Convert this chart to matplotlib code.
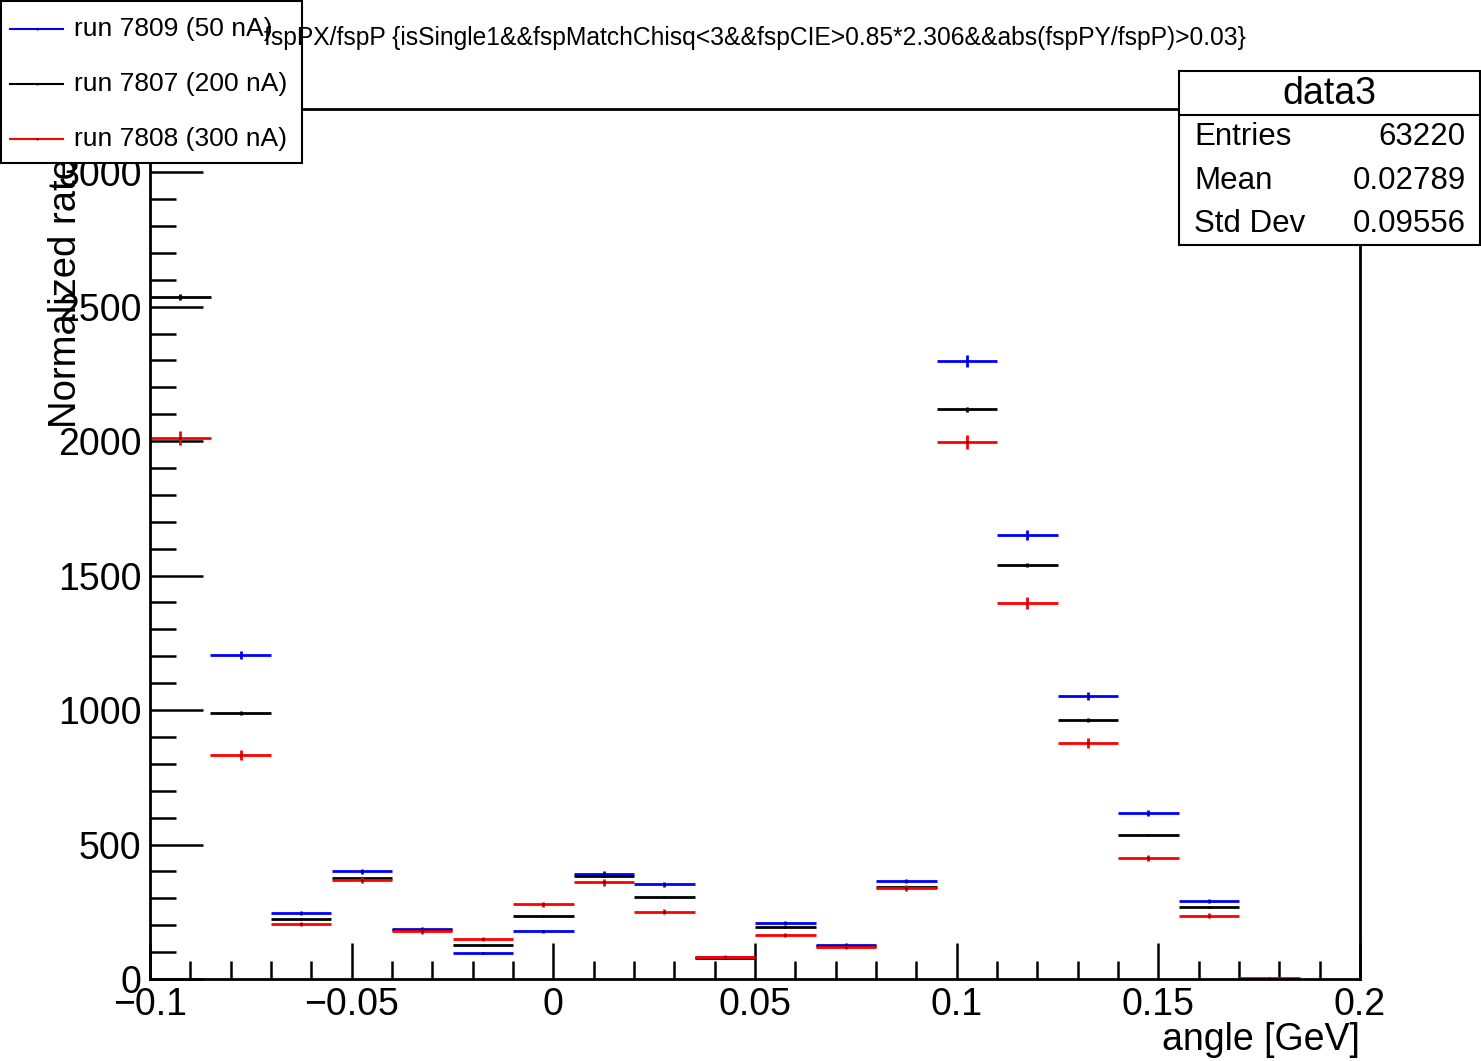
import numpy as np
import matplotlib
matplotlib.use("Agg")
import matplotlib.pyplot as plt
from matplotlib.patches import Rectangle
from matplotlib.lines import Line2D
from matplotlib.ticker import MultipleLocator

plt.rcParams['font.family'] = ['Liberation Sans', 'DejaVu Sans']

# ---- data ----
bin_edges = np.linspace(-0.1, 0.2, 21)
# run 7809 (50 nA) - first bin above the displayed range
blue_vals = [3300, 1204, 244, 400, 187, 97, 177, 391, 352, 80, 209, 128, 365,
             2297, 1651, 1052, 617, 289, 0, 0]
blue_err = [26, 15.6, 7, 9, 6.2, 4.4, 6, 8.9, 8.4, 4, 6.5, 5.1, 8.6,
            21.6, 18.3, 14.6, 11.2, 7.7, 0, 0]
# run 7807 (200 nA)
black_vals = [2536, 989, 223, 375, 184, 125, 233, 383, 305, 77, 194, 123, 343,
              2118, 1539, 963, 535, 268, 0, 0]
black_err = [11, 6.9, 3.3, 4.3, 3, 2.5, 3.4, 4.3, 3.8, 1.9, 3.1, 2.4, 4.1,
             10, 8.6, 6.8, 5.1, 3.6, 0, 0]
# run 7808 (300 nA)
red_vals = [2011, 833, 204, 367, 177, 148, 278, 359, 250, 83, 162, 120, 339,
            1997, 1399, 877, 450, 235, 3, 0]
red_err = [27, 17.3, 8.6, 11.5, 8, 7.3, 10, 11.4, 9.5, 5.5, 7.6, 6.6, 11,
           26.8, 22.4, 17.8, 12.7, 9.2, 1, 0]

series_labels = ["run 7809 (50 nA)", "run 7807 (200 nA)", "run 7808 (300 nA)"]
series_colors = ["#0000ff", "#000000", "#ff0000"]

title = "fspPX/fspP {isSingle1&&fspMatchChisq<3&&fspCIE>0.85*2.306&&abs(fspPY/fspP)>0.03}"
xlabel = "angle [GeV]"
ylabel = "Normalized rate"
stats_name = "data3"
stats_rows = [("Entries", "63220"), ("Mean", "0.02789"), ("Std Dev", "0.09556")]

W, H = 1481, 1061
fig = plt.figure(figsize=(W / 100, H / 100), dpi=100)
L, R, T, B = 150, 1360, 109, 979
ax = fig.add_axes([L / W, 1 - B / H, (R - L) / W, (B - T) / H])

centers = 0.5 * (bin_edges[:-1] + bin_edges[1:])
half = 0.5 * (bin_edges[1] - bin_edges[0])

for vals, err, col in [(blue_vals, blue_err, series_colors[0]),
                       (black_vals, black_err, series_colors[1]),
                       (red_vals, red_err, series_colors[2])]:
    v = np.array(vals, dtype=float)
    e = np.array(err, dtype=float)
    m = v > 0
    ax.errorbar(centers[m], v[m], xerr=half, yerr=e[m], fmt='none',
                ecolor=col, elinewidth=2, capsize=0, clip_on=True)
    ax.plot(centers[m], v[m], 's', color='black', markersize=1.3,
            markeredgewidth=0, clip_on=True)

ax.set_xlim(-0.1, 0.2)
ax.set_ylim(0, 3235)

for s in ['top', 'right', 'left', 'bottom']:
    ax.spines[s].set_linewidth(2)

ax.xaxis.set_major_locator(MultipleLocator(0.05))
ax.xaxis.set_minor_locator(MultipleLocator(0.01))
ax.yaxis.set_major_locator(MultipleLocator(500))
ax.yaxis.set_minor_locator(MultipleLocator(100))
ax.tick_params(axis='y', which='major', direction='in', length=38, width=1.8,
               labelsize=27, pad=6)
ax.tick_params(axis='y', which='minor', direction='in', length=19, width=1.8)
ax.tick_params(axis='x', which='major', direction='in', length=26, width=1.8,
               labelsize=27, pad=6)
ax.tick_params(axis='x', which='minor', direction='in', length=13, width=1.8)
ax.set_xticks([-0.1, -0.05, 0, 0.05, 0.1, 0.15, 0.2])
ax.set_xticklabels(["\u22120.1", "\u22120.05", "0", "0.05", "0.1", "0.15", "0.2"])

fig.text(R / W, 1 - 1040 / H, xlabel, ha='right', va='center', fontsize=27)
fig.text(66 / W, 1 - 158 / H, ylabel, ha='center', va='top', rotation=90,
         fontsize=27.5)
fig.text(755 / W, 1 - 38 / H, title, ha='center', va='center', fontsize=17.7,
         zorder=9)

# ---- legend box ----
lx0, ly0, lx1, ly1 = 1, 1, 302, 163
fig.patches.append(Rectangle((lx0 / W, 1 - ly1 / H), (lx1 - lx0) / W, (ly1 - ly0) / H,
                             transform=fig.transFigure, facecolor='white',
                             edgecolor='black', linewidth=1.5, zorder=5))
for i, (lab, col) in enumerate(zip(series_labels, series_colors)):
    yy = 1 - [29, 84, 139][i] / H
    fig.lines.append(Line2D([10 / W, 63 / W], [yy, yy], transform=fig.transFigure,
                            color=col, linewidth=1.5, zorder=6))
    fig.lines.append(Line2D([36.5 / W], [yy], transform=fig.transFigure, marker='s',
                            color='black', markersize=1.3, markeredgewidth=0, zorder=7))
    fig.text(74 / W, yy, lab, ha='left', va='center', fontsize=19, zorder=7)

# ---- stats box ----
sx0, sy0, sx1, sy1 = 1179, 71, 1480, 245
fig.patches.append(Rectangle((sx0 / W, 1 - sy1 / H), (sx1 - sx0) / W, (sy1 - sy0) / H,
                             transform=fig.transFigure, facecolor='white',
                             edgecolor='black', linewidth=1.5, zorder=5))
fig.lines.append(Line2D([sx0 / W, sx1 / W], [1 - 115 / H, 1 - 115 / H],
                        transform=fig.transFigure, color='black', linewidth=1.5, zorder=6))
fig.text((sx0 + sx1) / 2 / W, 1 - 94 / H, stats_name, ha='center', va='center',
         fontsize=27, zorder=7)
for i, (k, v) in enumerate(stats_rows):
    yy = 1 - [137, 181, 224][i] / H
    fig.text(1194 / W, yy, k, ha='left', va='center', fontsize=22.5, zorder=7)
    fig.text(1466 / W, yy, v, ha='right', va='center', fontsize=22.5, zorder=7)

fig.savefig("out.png", dpi=100, facecolor='white')
